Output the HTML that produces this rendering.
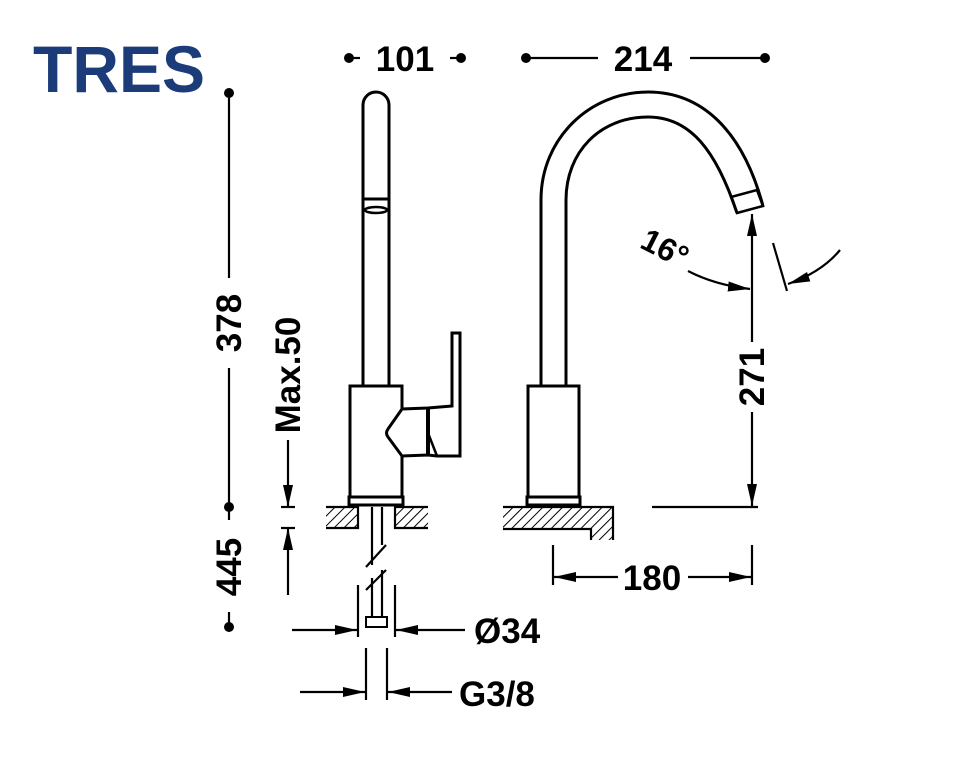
<!DOCTYPE html>
<html><head><meta charset="utf-8"><style>
html,body{margin:0;padding:0;background:#fff;}
svg{display:block;}
text{font-family:"Liberation Sans",sans-serif;font-weight:bold;fill:#000;}
</style></head><body>
<svg width="965" height="757" viewBox="0 0 965 757" xmlns="http://www.w3.org/2000/svg">
<defs>
<pattern id="h" width="7" height="7" patternUnits="userSpaceOnUse" patternTransform="rotate(45)">
<line x1="0" y1="0" x2="0" y2="7" stroke="#000" stroke-width="2"/>
</pattern>
<marker id="a" viewBox="0 0 22 10" refX="22" refY="5" markerWidth="22" markerHeight="10" markerUnits="userSpaceOnUse" orient="auto">
<path d="M0,0 L22,5 L0,10 Z" fill="#000"/></marker>
</defs>
<text x="33" y="92" font-size="66" style="fill:#1b3c78" textLength="172" lengthAdjust="spacingAndGlyphs">TRES</text>

<g stroke="#000" stroke-width="2.2" fill="none">
<!-- 101 -->
<line x1="349" y1="58" x2="360" y2="58"/><line x1="450" y1="58" x2="461" y2="58"/>
<!-- 214 -->
<line x1="526" y1="58" x2="598" y2="58"/><line x1="690" y1="58" x2="765" y2="58"/>
<!-- 378/445 -->
<line x1="229" y1="93" x2="229" y2="278"/><line x1="229" y1="368" x2="229" y2="507"/>
<line x1="229" y1="507" x2="229" y2="520"/><line x1="229" y1="612" x2="229" y2="627"/>
<!-- Max.50 -->
<line x1="288" y1="440" x2="288" y2="507" marker-end="url(#a)"/>
<line x1="281" y1="507" x2="295" y2="507"/><line x1="281" y1="528" x2="295" y2="528"/>
<line x1="288" y1="595" x2="288" y2="528" marker-end="url(#a)"/>

<!-- left faucet -->
<path d="M363,385 L363,105 A13,13 0 0 1 389,105 L389,385" stroke-width="3"/>
<line x1="363" y1="199" x2="389" y2="199" stroke-width="3"/>
<ellipse cx="376" cy="210" rx="11" ry="3" stroke-width="2.5"/>
<path d="M402,409 L402,386 L350,386 L350,497 L402,497 L402,456" stroke-width="3"/>
<rect x="349" y="497" width="54" height="8" stroke-width="3"/>
<path d="M402,409 L388,429 Q385,433 388,437 L402,456 L428,455 L437,456 L460,456 L460,333 L452,333 L452,406 L428,408 Z" stroke-width="3"/>
<line x1="428" y1="408" x2="428" y2="455" stroke-width="4"/>
<line x1="428" y1="433" x2="437" y2="456" stroke-width="2.5"/>
<!-- counter left -->
<rect x="326" y="507" width="32" height="21" fill="url(#h)" stroke="none"/>
<rect x="395" y="507" width="33" height="21" fill="url(#h)" stroke="none"/>
<path d="M326,507 L358,507 L358,528 L326,528 M428,507 L395,507 L395,528 L428,528"/>
<line x1="372" y1="507" x2="372" y2="565"/><line x1="382" y1="507" x2="382" y2="545"/>
<line x1="372" y1="578" x2="372" y2="617"/><line x1="382" y1="570" x2="382" y2="617"/>
<line x1="366" y1="567" x2="386" y2="545"/><line x1="366" y1="590" x2="386" y2="570"/>
<rect x="366" y="617" width="21" height="10" stroke-width="2"/>
<!-- Ø34 -->
<line x1="358" y1="585" x2="358" y2="637"/><line x1="395" y1="585" x2="395" y2="637"/>
<line x1="292" y1="630" x2="357" y2="630" marker-end="url(#a)"/>
<line x1="465" y1="630" x2="396" y2="630" marker-end="url(#a)"/>
<!-- G3/8 -->
<line x1="366" y1="648" x2="366" y2="700"/><line x1="387" y1="648" x2="387" y2="700"/>
<line x1="300" y1="692" x2="365" y2="692" marker-end="url(#a)"/>
<line x1="452" y1="692" x2="388" y2="692" marker-end="url(#a)"/>

<!-- right faucet -->
<path d="M541,385 L541,200 C541,138 590,92 648,92 C700,92 742,128 763,206" stroke-width="3"/>
<path d="M566,385 L566,200 C566,152 600,117 648,117 C690,117 716,150 737,213" stroke-width="3"/>
<path d="M737,213 L763,206 L757,190 L731,197 Z" stroke-width="2.5"/>
<rect x="528" y="386" width="51" height="111" stroke-width="3"/>
<rect x="527" y="497" width="53" height="8" stroke-width="3"/>
<path d="M503,507 L613,507 L613,540 L591,540 L591,529 L503,529 Z" fill="url(#h)" stroke="none"/>
<path d="M503,507 L613,507 L613,540 M591,540 L591,529 L503,529"/>
<line x1="652" y1="507" x2="758" y2="507"/>
<!-- 271 -->
<line x1="752" y1="342" x2="752" y2="214" marker-end="url(#a)"/>
<line x1="752" y1="412" x2="752" y2="506" marker-end="url(#a)"/>
<!-- 16 deg -->
<path d="M688,271 Q715,285 750,289" marker-end="url(#a)"/>
<line x1="773" y1="243" x2="787" y2="291"/>
<path d="M840,250 Q822,272 788,284" marker-end="url(#a)"/>
<!-- 180 -->
<line x1="553" y1="545" x2="553" y2="585"/><line x1="752" y1="545" x2="752" y2="585"/>
<line x1="618" y1="577" x2="554" y2="577" marker-end="url(#a)"/>
<line x1="688" y1="577" x2="751" y2="577" marker-end="url(#a)"/>
</g>
<g fill="#000">
<circle cx="349" cy="58" r="5"/><circle cx="461" cy="58" r="5"/>
<circle cx="526" cy="58" r="5"/><circle cx="765" cy="58" r="5"/>
<circle cx="229" cy="93" r="5"/><circle cx="229" cy="507" r="5"/><circle cx="229" cy="627" r="5"/>
</g>
<text x="405" y="71" font-size="35" text-anchor="middle">101</text>
<text x="643" y="71" font-size="35" text-anchor="middle">214</text>
<text transform="translate(241,323) rotate(-90)" font-size="35" text-anchor="middle">378</text>
<text transform="translate(241,567) rotate(-90)" font-size="35" text-anchor="middle">445</text>
<text transform="translate(300,375) rotate(-90)" font-size="35" text-anchor="middle">Max.50</text>
<text transform="translate(764,377) rotate(-90)" font-size="35" text-anchor="middle">271</text>
<text transform="translate(660,258) rotate(27)" font-size="32" text-anchor="middle">16°</text>
<text x="652" y="590" font-size="35" text-anchor="middle">180</text>
<text x="474" y="643" font-size="35">Ø34</text>
<text x="459" y="706" font-size="35">G3/8</text>
</svg>
</body></html>
